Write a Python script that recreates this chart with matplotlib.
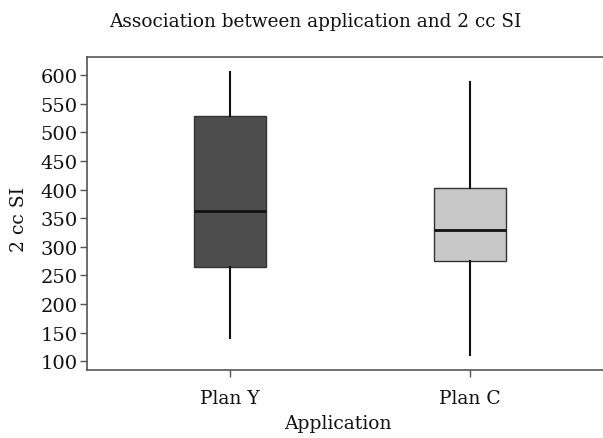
import matplotlib
matplotlib.use("Agg")
import matplotlib.pyplot as plt

categories = ["Plan Y", "Plan C"]
q1 = [264, 275]
median = [362, 329]
q3 = [529, 403]
whisker_low = [140, 111]
whisker_high = [606, 588]
fill_colors = ["#4d4d4d", "#c8c8c8"]
y_ticks = [100, 150, 200, 250, 300, 350, 400, 450, 500, 550, 600]

plt.rcParams['font.family'] = ['DejaVu Serif']

fig = plt.figure(figsize=(6.03, 4.39), dpi=100)
ax = fig.add_axes([86.7/603, (439-370.7)/439, (603-86.7)/603, (370.7-57.7)/439])

stats = []
for i, c in enumerate(categories):
    stats.append(dict(label=c, med=median[i], q1=q1[i], q3=q3[i],
                      whislo=whisker_low[i], whishi=whisker_high[i], fliers=[]))

bp = ax.bxp(stats, positions=[1, 2], widths=0.3, patch_artist=True,
            showcaps=False, showfliers=False,
            boxprops=dict(edgecolor="#333333", linewidth=1.0),
            whiskerprops=dict(color="#111111", linewidth=1.5),
            medianprops=dict(color="#111111", linewidth=2.0))
for patch, col in zip(bp['boxes'], fill_colors):
    patch.set_facecolor(col)

ax.set_xlim(0.403, 2.554)
ax.set_ylim(85.3, 632)
ax.set_yticks(y_ticks)
ax.set_xticks([1, 2])
ax.set_xticklabels(categories)

for s in ['top', 'bottom', 'left']:
    ax.spines[s].set_color("#555555")
    ax.spines[s].set_linewidth(1.2)
ax.spines['right'].set_visible(False)

ax.tick_params(axis='both', colors="#555555", labelcolor="#111111",
               length=5, width=1.0)
ax.tick_params(axis='x', pad=9, labelsize=13.5)
ax.tick_params(axis='y', pad=1.5, labelsize=14)

ax.set_xlabel("Application", fontsize=13.5, color="#111111")
ax.xaxis.set_label_coords(0.487, -0.142)
ax.set_ylabel("2 cc SI", fontsize=13.5, color="#111111")
ax.yaxis.set_label_coords(-0.113, 0.484)
ax.set_title("Association between application and 2 cc SI", fontsize=13.3,
             color="#111111", x=0.443, pad=22)

fig.savefig("out.png", dpi=100)
